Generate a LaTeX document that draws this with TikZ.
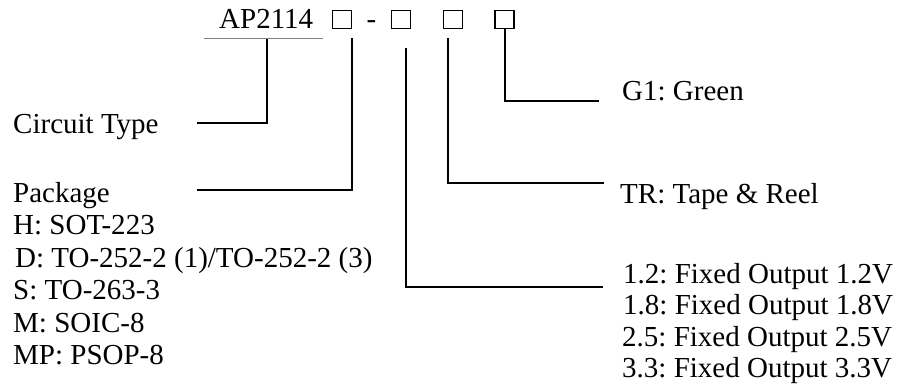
\documentclass[tikz,border=0pt]{standalone}
\usepackage{fontspec}
\setmainfont{Liberation Serif}
\frenchspacing

\begin{document}
\begin{tikzpicture}[x=1pt,y=-1pt,
	txt/.style={anchor=base west,inner sep=0pt,font=\fontsize{29pt}{32pt}\selectfont},
	digit/.style={draw,line width=1.5pt,minimum width=19pt,minimum height=18pt,inner sep=0pt},
	conn/.style={line width=1.8pt}]

	\useasboundingbox (0,0) rectangle (901,385);

	\node[txt] (type) at (219,29) {AP2114};
	\node[digit] (pkgbox) at (342,19.5) {};
	\node[txt,anchor=base] (dash) at (371.5,29) {-};
	\node[digit] (voltbox) at (401.2,19.5) {};
	\node[digit] (reelbox) at (453,19.5) {};
	\node[digit] (greenbox) at (504.6,19.5) {};

	\node[txt] (circuit) at (13,133) {Circuit Type};
	\node[txt] (package) at (13,202) {Package};
	\node[txt] (pkgh) at (13,234.5) {H: SOT-223};
	\node[txt] (pkgd) at (15,267) {D: TO-252-2 (1)/TO-252-2 (3)};
	\node[txt] (pkgs) at (13,299.5) {S: TO-263-3};
	\node[txt] (pkgm) at (13,332) {M: SOIC-8};
	\node[txt] (pkgmp) at (13,364.5) {MP: PSOP-8};

	\node[txt] (green) at (622,101) {G1: Green};
	\node[txt] (reel) at (620,203) {TR: Tape \& Reel};
	\node[txt] (volta) at (623,283) {1.2: Fixed Output 1.2V};
	\node[txt] (voltb) at (623,314.5) {1.8: Fixed Output 1.8V};
	\node[txt] (voltc) at (622,346) {2.5: Fixed Output 2.5V};
	\node[txt] (voltd) at (622,377.5) {3.3: Fixed Output 3.3V};

	\coordinate (ulstart) at (204,39);
	\coordinate (ulend) at (323,39);
	\coordinate (typetap) at (266.7,39);
	\coordinate (typeend) at (197,122.7);
	\coordinate (pkgend) at (197,190);
	\coordinate (voltend) at (603,287.3);
	\coordinate (reelend) at (604,183);
	\coordinate (greenend) at (599,101);

	\draw[gray,line width=1pt] (ulstart) -- (ulend);
	\draw[conn] (typetap) |- (typeend);
	\draw[conn] ([yshift=-9pt]pkgbox.south east) |- (pkgend);
	\draw[conn] ([xshift=15pt,yshift=-19pt]voltbox.south west) |- (voltend);
	\draw[conn] ([xshift=5.5pt,yshift=-9pt]reelbox.south west) |- (reelend);
	\draw[conn] (greenbox.south) |- (greenend);

\end{tikzpicture}
\end{document}
